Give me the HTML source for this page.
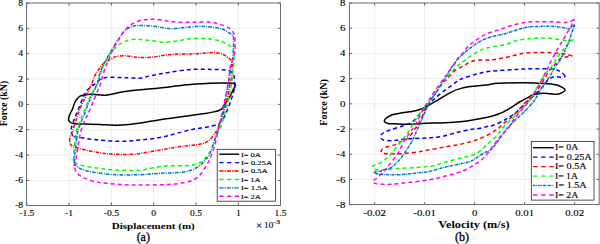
<!DOCTYPE html>
<html><head><meta charset="utf-8"><style>
html,body{margin:0;padding:0;background:#fff;}
svg{display:block;font-family:"Liberation Serif",serif;}
.tx{stroke:#000;stroke-width:0.25px;}
.tk{stroke:#000;stroke-width:0.12px;}
</style></head><body>
<svg width="600" height="244" viewBox="0 0 600 244">
<defs>
<clipPath id="cl"><rect x="26.50" y="3.00" width="254.00" height="202.00"/></clipPath>
<clipPath id="cr"><rect x="349.50" y="3.00" width="249.50" height="201.70"/></clipPath>
</defs>
<rect width="600" height="244" fill="#fff"/>
<line x1="69.10" y1="3.00" x2="69.10" y2="205.00" stroke="#e8e8e8" stroke-width="0.8"/>
<line x1="111.40" y1="3.00" x2="111.40" y2="205.00" stroke="#e8e8e8" stroke-width="0.8"/>
<line x1="153.70" y1="3.00" x2="153.70" y2="205.00" stroke="#e8e8e8" stroke-width="0.8"/>
<line x1="196.00" y1="3.00" x2="196.00" y2="205.00" stroke="#e8e8e8" stroke-width="0.8"/>
<line x1="238.30" y1="3.00" x2="238.30" y2="205.00" stroke="#e8e8e8" stroke-width="0.8"/>
<line x1="26.50" y1="180.48" x2="280.50" y2="180.48" stroke="#e8e8e8" stroke-width="0.8"/>
<line x1="26.50" y1="155.12" x2="280.50" y2="155.12" stroke="#e8e8e8" stroke-width="0.8"/>
<line x1="26.50" y1="129.76" x2="280.50" y2="129.76" stroke="#e8e8e8" stroke-width="0.8"/>
<line x1="26.50" y1="104.40" x2="280.50" y2="104.40" stroke="#e8e8e8" stroke-width="0.8"/>
<line x1="26.50" y1="79.04" x2="280.50" y2="79.04" stroke="#e8e8e8" stroke-width="0.8"/>
<line x1="26.50" y1="53.68" x2="280.50" y2="53.68" stroke="#e8e8e8" stroke-width="0.8"/>
<line x1="26.50" y1="28.32" x2="280.50" y2="28.32" stroke="#e8e8e8" stroke-width="0.8"/>
<line x1="374.60" y1="3.00" x2="374.60" y2="204.70" stroke="#e8e8e8" stroke-width="0.8"/>
<line x1="424.60" y1="3.00" x2="424.60" y2="204.70" stroke="#e8e8e8" stroke-width="0.8"/>
<line x1="474.60" y1="3.00" x2="474.60" y2="204.70" stroke="#e8e8e8" stroke-width="0.8"/>
<line x1="524.60" y1="3.00" x2="524.60" y2="204.70" stroke="#e8e8e8" stroke-width="0.8"/>
<line x1="574.60" y1="3.00" x2="574.60" y2="204.70" stroke="#e8e8e8" stroke-width="0.8"/>
<line x1="349.50" y1="179.49" x2="599.00" y2="179.49" stroke="#e8e8e8" stroke-width="0.8"/>
<line x1="349.50" y1="154.27" x2="599.00" y2="154.27" stroke="#e8e8e8" stroke-width="0.8"/>
<line x1="349.50" y1="129.06" x2="599.00" y2="129.06" stroke="#e8e8e8" stroke-width="0.8"/>
<line x1="349.50" y1="103.85" x2="599.00" y2="103.85" stroke="#e8e8e8" stroke-width="0.8"/>
<line x1="349.50" y1="78.64" x2="599.00" y2="78.64" stroke="#e8e8e8" stroke-width="0.8"/>
<line x1="349.50" y1="53.42" x2="599.00" y2="53.42" stroke="#e8e8e8" stroke-width="0.8"/>
<line x1="349.50" y1="28.21" x2="599.00" y2="28.21" stroke="#e8e8e8" stroke-width="0.8"/>
<g clip-path="url(#cl)"><path d="M68.50 119.50 C68.42 118.08 69.33 115.75 70.00 114.00 C70.67 112.25 71.67 111.00 72.50 109.00 C73.33 107.00 74.17 103.75 75.00 102.00 C75.83 100.25 76.67 99.47 77.50 98.50 C78.33 97.53 79.08 96.73 80.00 96.20 C80.92 95.67 81.83 95.58 83.00 95.30 C84.17 95.02 85.00 94.65 87.00 94.50 C89.00 94.35 92.33 94.27 95.00 94.40 C97.67 94.53 100.50 95.28 103.00 95.30 C105.50 95.32 108.00 94.80 110.00 94.50 C112.00 94.20 112.78 93.97 115.00 93.50 C117.22 93.03 119.13 92.33 123.30 91.70 C127.47 91.07 133.88 90.32 140.00 89.70 C146.12 89.08 152.50 88.78 160.00 88.00 C167.50 87.22 176.67 85.78 185.00 85.00 C193.33 84.22 203.67 83.63 210.00 83.30 C216.33 82.97 219.08 83.00 223.00 83.00 C226.92 83.00 231.42 82.88 233.50 83.30 C235.58 83.72 235.58 84.38 235.50 85.50 C235.42 86.62 233.83 88.33 233.00 90.00 C232.17 91.67 231.50 93.67 230.50 95.50 C229.50 97.33 228.00 99.50 227.00 101.00 C226.00 102.50 225.33 103.25 224.50 104.50 C223.67 105.75 222.92 107.50 222.00 108.50 C221.08 109.50 220.17 110.00 219.00 110.50 C217.83 111.00 217.33 111.00 215.00 111.50 C212.67 112.00 210.00 112.70 205.00 113.50 C200.00 114.30 192.50 115.27 185.00 116.30 C177.50 117.33 167.50 118.58 160.00 119.70 C152.50 120.82 144.72 122.25 140.00 123.00 C135.28 123.75 135.87 123.82 131.70 124.20 C127.53 124.58 120.28 125.25 115.00 125.30 C109.72 125.35 105.00 124.72 100.00 124.50 C95.00 124.28 89.17 124.12 85.00 124.00 C80.83 123.88 77.42 124.05 75.00 123.80 C72.58 123.55 71.58 123.22 70.50 122.50 C69.42 121.78 68.58 120.92 68.50 119.50Z" fill="none" stroke="#000000" stroke-width="1.5" stroke-linejoin="round"/>
<path d="M73.00 136.00 C71.55 134.92 71.55 132.42 71.30 131.00 C71.05 129.58 71.05 129.33 71.50 127.50 C71.95 125.67 73.17 122.25 74.00 120.00 C74.83 117.75 75.50 116.50 76.50 114.00 C77.50 111.50 78.83 107.92 80.00 105.00 C81.17 102.08 82.42 98.83 83.50 96.50 C84.58 94.17 85.08 92.75 86.50 91.00 C87.92 89.25 90.62 87.17 92.00 86.00 C93.38 84.83 93.92 84.75 94.80 84.00 C95.68 83.25 96.27 82.33 97.30 81.50 C98.33 80.67 99.72 79.62 101.00 79.00 C102.28 78.38 103.57 78.10 105.00 77.80 C106.43 77.50 106.78 77.23 109.60 77.20 C112.42 77.17 118.50 77.50 121.90 77.60 C125.30 77.70 126.98 77.70 130.00 77.80 C133.02 77.90 136.38 78.58 140.00 78.20 C143.62 77.82 146.98 76.45 151.70 75.50 C156.42 74.55 161.63 73.52 168.30 72.50 C174.97 71.48 184.47 69.92 191.70 69.40 C198.93 68.88 205.98 69.30 211.70 69.40 C217.42 69.50 222.95 69.73 226.00 70.00 C229.05 70.27 228.75 70.25 230.00 71.00 C231.25 71.75 232.75 73.00 233.50 74.50 C234.25 76.00 234.33 77.92 234.50 80.00 C234.67 82.08 234.75 84.67 234.50 87.00 C234.25 89.33 233.58 91.83 233.00 94.00 C232.42 96.17 231.67 98.00 231.00 100.00 C230.33 102.00 229.75 104.00 229.00 106.00 C228.25 108.00 227.33 110.08 226.50 112.00 C225.67 113.92 225.25 115.58 224.00 117.50 C222.75 119.42 221.00 122.08 219.00 123.50 C217.00 124.92 214.33 125.33 212.00 126.00 C209.67 126.67 208.12 126.97 205.00 127.50 C201.88 128.03 198.02 128.23 193.30 129.20 C188.58 130.17 182.25 131.92 176.70 133.30 C171.15 134.68 166.12 136.38 160.00 137.50 C153.88 138.62 146.67 139.37 140.00 140.00 C133.33 140.63 126.95 141.30 120.00 141.30 C113.05 141.30 104.97 140.63 98.30 140.00 C91.63 139.37 84.22 138.17 80.00 137.50 C75.78 136.83 74.45 137.08 73.00 136.00Z" fill="none" stroke="#0000ff" stroke-width="1.5" stroke-dasharray="4 3" stroke-linejoin="round"/>
<path d="M69.70 141.00 C69.50 139.50 69.83 138.17 70.30 136.50 C70.77 134.83 71.63 133.42 72.50 131.00 C73.37 128.58 74.58 124.83 75.50 122.00 C76.42 119.17 76.92 117.00 78.00 114.00 C79.08 111.00 80.50 107.33 82.00 104.00 C83.50 100.67 85.37 97.45 87.00 94.00 C88.63 90.55 90.50 86.32 91.80 83.30 C93.10 80.28 93.68 78.15 94.80 75.90 C95.92 73.65 97.05 71.85 98.50 69.80 C99.95 67.75 101.65 65.25 103.50 63.60 C105.35 61.95 107.55 61.07 109.60 59.90 C111.65 58.73 113.33 57.28 115.80 56.60 C118.27 55.92 121.70 55.82 124.40 55.80 C127.10 55.78 129.50 56.22 132.00 56.50 C134.50 56.78 136.12 57.38 139.40 57.50 C142.68 57.62 146.32 57.72 151.70 57.20 C157.08 56.68 164.48 54.97 171.70 54.40 C178.92 53.83 188.07 54.12 195.00 53.80 C201.93 53.48 208.80 52.47 213.30 52.50 C217.80 52.53 219.72 53.25 222.00 54.00 C224.28 54.75 225.50 55.92 227.00 57.00 C228.50 58.08 230.08 59.00 231.00 60.50 C231.92 62.00 232.33 63.58 232.50 66.00 C232.67 68.42 232.42 72.00 232.00 75.00 C231.58 78.00 230.67 80.50 230.00 84.00 C229.33 87.50 228.67 92.67 228.00 96.00 C227.33 99.33 227.00 100.33 226.00 104.00 C225.00 107.67 223.00 115.00 222.00 118.00 C221.00 121.00 220.83 120.00 220.00 122.00 C219.17 124.00 218.00 127.92 217.00 130.00 C216.00 132.08 215.17 132.92 214.00 134.50 C212.83 136.08 211.50 138.12 210.00 139.50 C208.50 140.88 207.00 141.97 205.00 142.80 C203.00 143.63 200.50 144.05 198.00 144.50 C195.50 144.95 193.00 145.15 190.00 145.50 C187.00 145.85 185.00 145.85 180.00 146.60 C175.00 147.35 167.50 148.77 160.00 150.00 C152.50 151.23 142.50 153.30 135.00 154.00 C127.50 154.70 121.12 154.45 115.00 154.20 C108.88 153.95 104.42 153.48 98.30 152.50 C92.18 151.52 82.77 149.47 78.30 148.30 C73.83 147.13 72.93 146.72 71.50 145.50 C70.07 144.28 69.90 142.50 69.70 141.00Z" fill="none" stroke="#ff0000" stroke-width="1.5" stroke-dasharray="3.5 1.2 1 1.2" stroke-linejoin="round"/>
<path d="M73.50 160.00 C73.67 155.17 74.92 139.50 76.00 133.00 C77.08 126.50 78.83 124.17 80.00 121.00 C81.17 117.83 81.75 117.00 83.00 114.00 C84.25 111.00 85.83 106.83 87.50 103.00 C89.17 99.17 91.47 94.08 93.00 91.00 C94.53 87.92 94.95 88.75 96.70 84.50 C98.45 80.25 101.95 69.50 103.50 65.50 C105.05 61.50 105.25 61.83 106.00 60.50 C106.75 59.17 107.25 58.67 108.00 57.50 C108.75 56.33 109.67 54.75 110.50 53.50 C111.33 52.25 112.08 51.05 113.00 50.00 C113.92 48.95 114.88 48.17 116.00 47.20 C117.12 46.23 118.27 45.12 119.70 44.20 C121.13 43.28 122.97 42.42 124.60 41.70 C126.23 40.98 127.45 40.30 129.50 39.90 C131.55 39.50 134.82 39.33 136.90 39.30 C138.98 39.27 139.82 39.50 142.00 39.70 C144.18 39.90 146.45 40.07 150.00 40.50 C153.55 40.93 158.58 42.25 163.30 42.30 C168.02 42.35 173.85 41.40 178.30 40.80 C182.75 40.20 185.27 39.05 190.00 38.70 C194.73 38.35 201.70 38.35 206.70 38.70 C211.70 39.05 216.95 40.08 220.00 40.80 C223.05 41.52 223.33 42.13 225.00 43.00 C226.67 43.87 228.67 45.00 230.00 46.00 C231.33 47.00 232.33 47.33 233.00 49.00 C233.67 50.67 233.83 53.83 234.00 56.00 C234.17 58.17 234.33 58.00 234.00 62.00 C233.67 66.00 232.67 75.00 232.00 80.00 C231.33 85.00 230.75 88.00 230.00 92.00 C229.25 96.00 228.67 99.33 227.50 104.00 C226.33 108.67 224.33 115.67 223.00 120.00 C221.67 124.33 220.67 127.33 219.50 130.00 C218.33 132.67 217.25 133.00 216.00 136.00 C214.75 139.00 213.33 144.83 212.00 148.00 C210.67 151.17 209.33 153.08 208.00 155.00 C206.67 156.92 205.33 158.25 204.00 159.50 C202.67 160.75 201.50 161.67 200.00 162.50 C198.50 163.33 197.50 163.95 195.00 164.50 C192.50 165.05 189.45 165.58 185.00 165.80 C180.55 166.02 173.85 165.43 168.30 165.80 C162.75 166.17 156.42 167.25 151.70 168.00 C146.98 168.75 146.12 169.97 140.00 170.30 C133.88 170.63 121.95 170.33 115.00 170.00 C108.05 169.67 104.13 169.13 98.30 168.30 C92.47 167.47 83.88 166.05 80.00 165.00 C76.12 163.95 76.08 162.83 75.00 162.00 C73.92 161.17 73.33 164.83 73.50 160.00Z" fill="none" stroke="#00ff00" stroke-width="1.5" stroke-dasharray="4 3" stroke-linejoin="round"/>
<path d="M74.20 162.00 C74.45 156.58 76.53 139.17 77.50 133.00 C78.47 126.83 78.83 128.17 80.00 125.00 C81.17 121.83 83.00 117.83 84.50 114.00 C86.00 110.17 87.33 106.00 89.00 102.00 C90.67 98.00 93.00 93.33 94.50 90.00 C96.00 86.67 97.12 84.75 98.00 82.00 C98.88 79.25 98.88 76.37 99.80 73.50 C100.72 70.63 102.43 67.13 103.50 64.80 C104.57 62.47 105.15 61.40 106.20 59.50 C107.25 57.60 108.37 55.85 109.80 53.40 C111.23 50.95 113.15 47.47 114.80 44.80 C116.45 42.13 118.33 39.40 119.70 37.40 C121.07 35.40 121.78 34.20 123.00 32.80 C124.22 31.40 125.67 29.97 127.00 29.00 C128.33 28.03 129.67 27.53 131.00 27.00 C132.33 26.47 133.17 26.05 135.00 25.80 C136.83 25.55 139.00 25.43 142.00 25.50 C145.00 25.57 149.67 25.87 153.00 26.20 C156.33 26.53 158.88 27.08 162.00 27.50 C165.12 27.92 167.87 28.70 171.70 28.70 C175.53 28.70 180.57 27.90 185.00 27.50 C189.43 27.10 194.97 26.47 198.30 26.30 C201.63 26.13 202.22 26.30 205.00 26.50 C207.78 26.70 212.17 27.08 215.00 27.50 C217.83 27.92 219.83 28.25 222.00 29.00 C224.17 29.75 226.33 31.00 228.00 32.00 C229.67 33.00 231.08 34.08 232.00 35.00 C232.92 35.92 233.25 35.33 233.50 37.50 C233.75 39.67 233.58 44.92 233.50 48.00 C233.42 51.08 233.50 52.33 233.00 56.00 C232.50 59.67 231.33 65.33 230.50 70.00 C229.67 74.67 228.83 79.00 228.00 84.00 C227.17 89.00 226.50 94.67 225.50 100.00 C224.50 105.33 223.08 111.50 222.00 116.00 C220.92 120.50 220.00 123.67 219.00 127.00 C218.00 130.33 217.17 132.50 216.00 136.00 C214.83 139.50 213.25 144.67 212.00 148.00 C210.75 151.33 209.50 154.17 208.50 156.00 C207.50 157.83 207.08 157.75 206.00 159.00 C204.92 160.25 203.67 162.00 202.00 163.50 C200.33 165.00 198.00 166.83 196.00 168.00 C194.00 169.17 192.67 169.75 190.00 170.50 C187.33 171.25 185.00 172.03 180.00 172.50 C175.00 172.97 166.67 172.93 160.00 173.30 C153.33 173.67 147.50 174.47 140.00 174.70 C132.50 174.93 122.50 175.07 115.00 174.70 C107.50 174.33 100.55 173.42 95.00 172.50 C89.45 171.58 84.87 170.37 81.70 169.20 C78.53 168.03 77.25 166.70 76.00 165.50 C74.75 164.30 73.95 167.42 74.20 162.00Z" fill="none" stroke="#0072bd" stroke-width="1.5" stroke-dasharray="3.5 1.2 1 1.2" stroke-linejoin="round"/>
<path d="M74.50 166.00 C74.30 163.83 75.05 164.33 75.80 160.00 C76.55 155.67 78.05 145.17 79.00 140.00 C79.95 134.83 80.50 132.33 81.50 129.00 C82.50 125.67 83.92 122.50 85.00 120.00 C86.08 117.50 86.67 117.00 88.00 114.00 C89.33 111.00 91.33 106.00 93.00 102.00 C94.67 98.00 96.77 92.92 98.00 90.00 C99.23 87.08 99.70 86.63 100.40 84.50 C101.10 82.37 101.28 80.27 102.20 77.20 C103.12 74.13 104.73 69.25 105.90 66.10 C107.07 62.95 107.93 61.23 109.20 58.30 C110.47 55.37 111.95 51.58 113.50 48.50 C115.05 45.42 116.88 42.45 118.50 39.80 C120.12 37.15 121.78 34.57 123.20 32.60 C124.62 30.63 125.53 29.43 127.00 28.00 C128.47 26.57 129.83 25.25 132.00 24.00 C134.17 22.75 137.33 21.25 140.00 20.50 C142.67 19.75 145.78 19.72 148.00 19.50 C150.22 19.28 150.47 19.03 153.30 19.20 C156.13 19.37 161.38 20.03 165.00 20.50 C168.62 20.97 170.50 21.70 175.00 22.00 C179.50 22.30 187.83 22.30 192.00 22.30 C196.17 22.30 197.00 22.05 200.00 22.00 C203.00 21.95 207.17 21.75 210.00 22.00 C212.83 22.25 214.50 22.83 217.00 23.50 C219.50 24.17 222.67 25.00 225.00 26.00 C227.33 27.00 229.42 28.00 231.00 29.50 C232.58 31.00 233.83 33.25 234.50 35.00 C235.17 36.75 234.92 37.50 235.00 40.00 C235.08 42.50 235.17 47.33 235.00 50.00 C234.83 52.67 234.50 54.00 234.00 56.00 C233.50 58.00 232.67 60.00 232.00 62.00 C231.33 64.00 230.50 65.00 230.00 68.00 C229.50 71.00 229.58 76.00 229.00 80.00 C228.42 84.00 227.33 88.00 226.50 92.00 C225.67 96.00 225.00 99.33 224.00 104.00 C223.00 108.67 221.67 114.67 220.50 120.00 C219.33 125.33 218.08 131.33 217.00 136.00 C215.92 140.67 215.00 144.67 214.00 148.00 C213.00 151.33 211.92 153.67 211.00 156.00 C210.08 158.33 209.50 160.00 208.50 162.00 C207.50 164.00 206.42 165.83 205.00 168.00 C203.58 170.17 201.83 173.08 200.00 175.00 C198.17 176.92 196.50 178.25 194.00 179.50 C191.50 180.75 189.28 181.67 185.00 182.50 C180.72 183.33 175.80 184.08 168.30 184.50 C160.80 184.92 147.50 184.97 140.00 185.00 C132.50 185.03 128.85 184.98 123.30 184.70 C117.75 184.42 111.42 183.80 106.70 183.30 C101.98 182.80 98.90 182.67 95.00 181.70 C91.10 180.73 86.30 178.95 83.30 177.50 C80.30 176.05 78.47 174.92 77.00 173.00 C75.53 171.08 74.70 168.17 74.50 166.00Z" fill="none" stroke="#ff00ff" stroke-width="1.5" stroke-dasharray="4 3" stroke-linejoin="round"/></g>
<g clip-path="url(#cr)"><path d="M565.20 90.00 C565.07 89.17 563.47 88.08 561.90 87.20 C560.33 86.32 558.87 85.32 555.80 84.70 C552.73 84.08 548.63 83.82 543.50 83.50 C538.37 83.18 532.53 82.83 525.00 82.80 C517.47 82.77 504.73 82.93 498.30 83.30 C491.87 83.67 491.12 84.45 486.40 85.00 C481.68 85.55 474.40 86.00 470.00 86.60 C465.60 87.20 463.20 87.65 460.00 88.60 C456.80 89.55 454.38 90.45 450.80 92.30 C447.22 94.15 442.00 97.65 438.50 99.70 C435.00 101.75 432.88 102.97 429.80 104.60 C426.72 106.23 423.30 108.30 420.00 109.50 C416.70 110.70 413.33 111.18 410.00 111.80 C406.67 112.42 403.05 112.67 400.00 113.20 C396.95 113.73 394.03 114.15 391.70 115.00 C389.37 115.85 387.22 117.22 386.00 118.30 C384.78 119.38 384.07 120.63 384.40 121.50 C384.73 122.37 386.23 123.12 388.00 123.50 C389.77 123.88 390.95 123.68 395.00 123.80 C399.05 123.92 407.30 124.30 412.30 124.20 C417.30 124.10 420.38 123.42 425.00 123.20 C429.62 122.98 434.72 123.10 440.00 122.90 C445.28 122.70 451.70 122.42 456.70 122.00 C461.70 121.58 465.05 121.13 470.00 120.40 C474.95 119.67 481.75 118.62 486.40 117.60 C491.05 116.58 494.35 115.63 497.90 114.30 C501.45 112.97 504.08 111.65 507.70 109.60 C511.32 107.55 516.18 104.05 519.60 102.00 C523.02 99.95 526.13 98.42 528.20 97.30 C530.27 96.18 530.77 95.82 532.00 95.30 C533.23 94.78 533.63 94.55 535.60 94.20 C537.57 93.85 541.40 93.27 543.80 93.20 C546.20 93.13 547.75 93.62 550.00 93.80 C552.25 93.98 555.18 94.57 557.30 94.30 C559.42 94.03 561.38 92.92 562.70 92.20 C564.02 91.48 565.33 90.83 565.20 90.00Z" fill="none" stroke="#000000" stroke-width="1.5" stroke-linejoin="round"/>
<path d="M565.00 76.00 C564.80 75.08 562.45 72.92 560.70 71.80 C558.95 70.68 557.37 69.82 554.50 69.30 C551.63 68.78 548.42 68.77 543.50 68.70 C538.58 68.63 529.75 68.75 525.00 68.90 C520.25 69.05 520.83 69.20 515.00 69.60 C509.17 70.00 496.35 70.57 490.00 71.30 C483.65 72.03 481.13 72.93 476.90 74.00 C472.67 75.07 467.72 76.62 464.60 77.70 C461.48 78.78 460.50 79.08 458.20 80.50 C455.90 81.92 453.47 84.23 450.80 86.20 C448.13 88.17 444.87 90.25 442.20 92.30 C439.53 94.35 437.27 96.25 434.80 98.50 C432.33 100.75 429.87 103.30 427.40 105.80 C424.93 108.30 422.52 110.83 420.00 113.50 C417.48 116.17 415.22 119.72 412.30 121.80 C409.38 123.88 406.22 124.63 402.50 126.00 C398.78 127.37 393.33 128.75 390.00 130.00 C386.67 131.25 384.03 132.33 382.50 133.50 C380.97 134.67 380.67 135.92 380.80 137.00 C380.93 138.08 381.22 139.40 383.30 140.00 C385.38 140.60 390.13 140.70 393.30 140.60 C396.47 140.50 399.13 139.75 402.30 139.40 C405.47 139.05 408.18 138.73 412.30 138.50 C416.42 138.27 422.10 138.33 427.00 138.00 C431.90 137.67 436.75 137.42 441.70 136.50 C446.65 135.58 451.98 133.65 456.70 132.50 C461.42 131.35 466.42 130.23 470.00 129.60 C473.58 128.97 475.30 129.22 478.20 128.70 C481.10 128.18 484.85 127.08 487.40 126.50 C489.95 125.92 490.97 126.10 493.50 125.20 C496.03 124.30 500.27 122.25 502.60 121.10 C504.93 119.95 505.48 119.57 507.50 118.30 C509.52 117.03 512.75 114.95 514.70 113.50 C516.65 112.05 517.08 111.62 519.20 109.60 C521.32 107.58 524.67 104.00 527.40 101.40 C530.13 98.80 533.15 96.32 535.60 94.00 C538.05 91.68 540.03 89.83 542.10 87.50 C544.17 85.17 545.93 81.80 548.00 80.00 C550.07 78.20 552.18 77.15 554.50 76.70 C556.82 76.25 560.15 77.42 561.90 77.30 C563.65 77.18 565.20 76.92 565.00 76.00Z" fill="none" stroke="#0000ff" stroke-width="1.5" stroke-dasharray="4 3" stroke-linejoin="round"/>
<path d="M572.00 56.00 C572.17 55.57 568.67 54.80 567.00 54.40 C565.33 54.00 564.03 53.85 562.00 53.60 C559.97 53.35 558.47 53.10 554.80 52.90 C551.13 52.70 543.30 52.47 540.00 52.40 C536.70 52.33 537.50 52.40 535.00 52.50 C532.50 52.60 527.83 52.67 525.00 53.00 C522.17 53.33 520.50 53.92 518.00 54.50 C515.50 55.08 512.50 55.92 510.00 56.50 C507.50 57.08 505.50 57.50 503.00 58.00 C500.50 58.50 497.50 59.17 495.00 59.50 C492.50 59.83 490.50 59.92 488.00 60.00 C485.50 60.08 482.87 59.72 480.00 60.00 C477.13 60.28 473.57 60.70 470.80 61.70 C468.03 62.70 465.87 64.67 463.40 66.00 C460.93 67.33 458.27 68.07 456.00 69.70 C453.73 71.33 451.43 74.08 449.80 75.80 C448.17 77.52 447.37 78.83 446.20 80.00 C445.03 81.17 444.50 80.75 442.80 82.80 C441.10 84.85 438.37 88.87 436.00 92.30 C433.63 95.73 430.43 100.37 428.60 103.40 C426.77 106.43 426.68 107.15 425.00 110.50 C423.32 113.85 420.82 119.48 418.50 123.50 C416.18 127.52 413.15 131.97 411.10 134.60 C409.05 137.23 408.05 138.07 406.20 139.30 C404.35 140.53 401.90 141.07 400.00 142.00 C398.10 142.93 396.97 144.10 394.80 144.90 C392.63 145.70 389.05 146.12 387.00 146.80 C384.95 147.48 383.47 148.22 382.50 149.00 C381.53 149.78 381.00 150.75 381.20 151.50 C381.40 152.25 381.90 153.13 383.70 153.50 C385.50 153.87 388.52 153.70 392.00 153.70 C395.48 153.70 400.03 153.83 404.60 153.50 C409.17 153.17 415.68 152.23 419.40 151.70 C423.12 151.17 423.18 151.00 426.90 150.30 C430.62 149.60 436.73 148.38 441.70 147.50 C446.67 146.62 451.98 145.93 456.70 145.00 C461.42 144.07 466.42 142.85 470.00 141.90 C473.58 140.95 475.47 140.33 478.20 139.30 C480.93 138.27 483.85 136.97 486.40 135.70 C488.95 134.43 491.45 132.97 493.50 131.70 C495.55 130.43 497.18 129.35 498.70 128.10 C500.22 126.85 500.92 125.68 502.60 124.20 C504.28 122.72 506.98 120.67 508.80 119.20 C510.62 117.73 511.08 117.80 513.50 115.40 C515.92 113.00 520.22 108.12 523.30 104.80 C526.38 101.48 529.55 98.13 532.00 95.50 C534.45 92.87 535.78 92.03 538.00 89.00 C540.22 85.97 543.22 80.67 545.30 77.30 C547.38 73.93 548.88 70.93 550.50 68.80 C552.12 66.67 553.47 66.12 555.00 64.50 C556.53 62.88 557.87 60.35 559.70 59.10 C561.53 57.85 563.95 57.52 566.00 57.00 C568.05 56.48 571.83 56.43 572.00 56.00Z" fill="none" stroke="#ff0000" stroke-width="1.5" stroke-dasharray="4 3" stroke-linejoin="round"/>
<path d="M573.00 40.00 C573.00 39.90 572.20 40.53 570.80 40.60 C569.40 40.67 567.68 40.73 564.60 40.40 C561.52 40.07 556.40 39.00 552.30 38.60 C548.20 38.20 543.38 38.03 540.00 38.00 C536.62 37.97 534.57 38.22 532.00 38.40 C529.43 38.58 527.43 38.67 524.60 39.10 C521.77 39.53 517.77 40.22 515.00 41.00 C512.23 41.78 510.50 43.07 508.00 43.80 C505.50 44.53 502.67 44.87 500.00 45.40 C497.33 45.93 494.57 46.48 492.00 47.00 C489.43 47.52 486.95 47.75 484.60 48.50 C482.25 49.25 480.12 50.32 477.90 51.50 C475.68 52.68 473.35 54.23 471.30 55.60 C469.25 56.97 467.32 58.43 465.60 59.70 C463.88 60.97 462.80 61.73 461.00 63.20 C459.20 64.67 456.87 66.60 454.80 68.50 C452.73 70.40 450.32 72.68 448.60 74.60 C446.88 76.52 446.27 77.68 444.50 80.00 C442.73 82.32 439.95 85.58 438.00 88.50 C436.05 91.42 434.63 94.75 432.80 97.50 C430.97 100.25 428.98 102.62 427.00 105.00 C425.02 107.38 422.93 109.12 420.90 111.80 C418.87 114.48 417.05 117.50 414.80 121.10 C412.55 124.70 409.15 130.67 407.40 133.40 C405.65 136.13 405.38 136.20 404.30 137.50 C403.22 138.80 402.90 138.73 400.90 141.20 C398.90 143.67 394.97 149.22 392.30 152.30 C389.63 155.38 387.12 157.83 384.90 159.70 C382.68 161.57 380.98 162.45 379.00 163.50 C377.02 164.55 373.67 165.00 373.00 166.00 C372.33 167.00 373.00 168.92 375.00 169.50 C377.00 170.08 381.08 169.67 385.00 169.50 C388.92 169.33 393.22 168.83 398.50 168.50 C403.78 168.17 410.90 167.95 416.70 167.50 C422.50 167.05 428.30 166.77 433.30 165.80 C438.30 164.83 441.70 163.08 446.70 161.70 C451.70 160.32 458.58 158.75 463.30 157.50 C468.02 156.25 471.83 155.62 475.00 154.20 C478.17 152.78 480.07 150.80 482.30 149.00 C484.53 147.20 486.53 145.10 488.40 143.40 C490.27 141.70 491.88 140.33 493.50 138.80 C495.12 137.27 496.78 135.82 498.10 134.20 C499.42 132.58 499.62 131.18 501.40 129.10 C503.18 127.02 506.95 123.50 508.80 121.70 C510.65 119.90 511.05 119.67 512.50 118.30 C513.95 116.93 515.28 115.75 517.50 113.50 C519.72 111.25 523.40 107.58 525.80 104.80 C528.20 102.02 530.03 99.60 531.90 96.80 C533.77 94.00 535.48 90.63 537.00 88.00 C538.52 85.37 539.50 83.50 541.00 81.00 C542.50 78.50 544.42 75.12 546.00 73.00 C547.58 70.88 548.63 70.93 550.50 68.30 C552.37 65.67 554.95 60.48 557.20 57.20 C559.45 53.92 561.73 51.27 564.00 48.60 C566.27 45.93 569.30 42.63 570.80 41.20 C572.30 39.77 573.00 40.10 573.00 40.00Z" fill="none" stroke="#00ff00" stroke-width="1.5" stroke-dasharray="4 3" stroke-linejoin="round"/>
<path d="M574.50 24.90 C573.88 24.80 571.55 28.18 569.50 28.60 C567.45 29.02 564.65 27.75 562.20 27.40 C559.75 27.05 557.47 26.70 554.80 26.50 C552.13 26.30 548.67 26.20 546.20 26.20 C543.73 26.20 542.37 26.43 540.00 26.50 C537.63 26.57 534.37 26.45 532.00 26.60 C529.63 26.75 528.05 26.97 525.80 27.40 C523.55 27.83 521.17 28.40 518.50 29.20 C515.83 30.00 512.65 31.30 509.80 32.20 C506.95 33.10 504.12 33.92 501.40 34.60 C498.68 35.28 496.12 35.62 493.50 36.30 C490.88 36.98 488.32 37.63 485.70 38.70 C483.08 39.77 480.27 41.22 477.80 42.70 C475.33 44.18 473.35 45.73 470.90 47.60 C468.45 49.47 465.35 51.88 463.10 53.90 C460.85 55.92 459.17 57.68 457.40 59.70 C455.63 61.72 453.97 63.92 452.50 66.00 C451.03 68.08 450.02 69.87 448.60 72.20 C447.18 74.53 445.90 76.85 444.00 80.00 C442.10 83.15 439.35 87.82 437.20 91.10 C435.05 94.38 432.92 96.72 431.10 99.70 C429.28 102.68 428.10 105.03 426.30 109.00 C424.50 112.97 421.83 120.00 420.30 123.50 C418.77 127.00 418.38 127.25 417.10 130.00 C415.82 132.75 414.07 137.10 412.60 140.00 C411.13 142.90 409.83 144.93 408.30 147.40 C406.77 149.87 405.25 152.33 403.40 154.80 C401.55 157.27 399.25 160.05 397.20 162.20 C395.15 164.35 392.93 166.48 391.10 167.70 C389.27 168.92 388.05 168.90 386.20 169.50 C384.35 170.10 382.12 170.80 380.00 171.30 C377.88 171.80 373.83 172.05 373.50 172.50 C373.17 172.95 375.92 173.65 378.00 174.00 C380.08 174.35 382.33 174.48 386.00 174.60 C389.67 174.72 394.05 175.05 400.00 174.70 C405.95 174.35 416.70 173.07 421.70 172.50 C426.70 171.93 425.83 172.27 430.00 171.30 C434.17 170.33 441.15 168.03 446.70 166.70 C452.25 165.37 459.13 164.28 463.30 163.30 C467.47 162.32 468.92 162.10 471.70 160.80 C474.48 159.50 477.62 156.97 480.00 155.50 C482.38 154.03 484.08 153.05 486.00 152.00 C487.92 150.95 489.42 151.12 491.50 149.20 C493.58 147.28 496.23 143.57 498.50 140.50 C500.77 137.43 502.77 133.73 505.10 130.80 C507.43 127.87 510.35 125.12 512.50 122.90 C514.65 120.68 516.20 119.18 518.00 117.50 C519.80 115.82 520.98 115.12 523.30 112.80 C525.62 110.48 529.95 105.75 531.90 103.60 C533.85 101.45 534.02 101.42 535.00 99.90 C535.98 98.38 536.55 96.65 537.80 94.50 C539.05 92.35 540.73 89.67 542.50 87.00 C544.27 84.33 546.08 82.17 548.40 78.50 C550.72 74.83 554.52 67.93 556.40 65.00 C558.28 62.07 558.33 63.22 559.70 60.90 C561.07 58.58 562.97 54.58 564.60 51.10 C566.23 47.62 568.47 42.62 569.50 40.00 C570.53 37.38 570.18 37.20 570.80 35.40 C571.42 33.60 572.58 30.95 573.20 29.20 C573.82 27.45 575.12 25.00 574.50 24.90Z" fill="none" stroke="#0072bd" stroke-width="1.5" stroke-dasharray="3 0.8 0.8 0.8" stroke-linejoin="round"/>
<path d="M573.80 19.60 C573.40 19.50 572.33 20.72 570.80 21.20 C569.27 21.68 567.68 22.40 564.60 22.50 C561.52 22.60 556.40 21.92 552.30 21.80 C548.20 21.68 543.38 21.80 540.00 21.80 C536.62 21.80 534.57 21.68 532.00 21.80 C529.43 21.92 527.27 22.08 524.60 22.50 C521.93 22.92 518.87 23.58 516.00 24.30 C513.13 25.02 510.07 25.92 507.40 26.80 C504.73 27.68 502.32 28.83 500.00 29.60 C497.68 30.37 495.73 30.70 493.50 31.40 C491.27 32.10 488.88 32.73 486.60 33.80 C484.32 34.87 481.92 36.48 479.80 37.80 C477.68 39.12 475.87 40.23 473.90 41.70 C471.93 43.17 469.67 44.90 468.00 46.60 C466.33 48.30 465.53 50.07 463.90 51.90 C462.27 53.73 459.72 55.67 458.20 57.60 C456.68 59.53 456.40 61.07 454.80 63.50 C453.20 65.93 450.55 69.53 448.60 72.20 C446.65 74.87 445.40 76.35 443.10 79.50 C440.80 82.65 437.22 87.53 434.80 91.10 C432.38 94.67 430.45 98.03 428.60 100.90 C426.75 103.77 425.80 104.53 423.70 108.30 C421.60 112.07 418.52 119.12 416.00 123.50 C413.48 127.88 410.50 131.85 408.60 134.60 C406.70 137.35 406.28 137.05 404.60 140.00 C402.92 142.95 400.55 148.82 398.50 152.30 C396.45 155.78 394.15 158.45 392.30 160.90 C390.45 163.35 389.03 165.07 387.40 167.00 C385.77 168.93 384.15 170.75 382.50 172.50 C380.85 174.25 379.13 176.00 377.50 177.50 C375.87 179.00 372.95 180.48 372.70 181.50 C372.45 182.52 374.28 183.13 376.00 183.60 C377.72 184.07 380.38 184.18 383.00 184.30 C385.62 184.42 387.48 184.60 391.70 184.30 C395.92 184.00 401.92 183.27 408.30 182.50 C414.68 181.73 423.60 180.82 430.00 179.70 C436.40 178.58 441.15 177.28 446.70 175.80 C452.25 174.32 458.58 172.73 463.30 170.80 C468.02 168.87 471.67 166.28 475.00 164.20 C478.33 162.12 480.80 160.67 483.30 158.30 C485.80 155.93 488.13 152.38 490.00 150.00 C491.87 147.62 493.05 145.95 494.50 144.00 C495.95 142.05 497.52 139.77 498.70 138.30 C499.88 136.83 500.13 136.73 501.60 135.20 C503.07 133.67 505.58 131.55 507.50 129.10 C509.42 126.65 511.08 123.32 513.10 120.50 C515.12 117.68 517.08 115.22 519.60 112.20 C522.12 109.18 526.03 105.18 528.20 102.40 C530.37 99.62 530.47 99.07 532.60 95.50 C534.73 91.93 538.53 85.43 541.00 81.00 C543.47 76.57 545.93 71.83 547.40 68.90 C548.87 65.97 548.37 66.27 549.80 63.40 C551.23 60.53 553.88 55.47 556.00 51.70 C558.12 47.93 560.65 43.93 562.50 40.80 C564.35 37.67 565.72 35.23 567.10 32.90 C568.48 30.57 569.78 28.65 570.80 26.80 C571.82 24.95 572.70 23.00 573.20 21.80 C573.70 20.60 574.20 19.70 573.80 19.60Z" fill="none" stroke="#ff00ff" stroke-width="1.5" stroke-dasharray="4 3" stroke-linejoin="round"/></g>
<line x1="26.80" y1="205.00" x2="26.80" y2="202.50" stroke="#262626" stroke-width="0.7"/>
<line x1="26.80" y1="3.00" x2="26.80" y2="5.50" stroke="#262626" stroke-width="0.7"/>
<text x="26.80" y="216.01" text-anchor="middle" font-size="8" class="tk" textLength="15.20" lengthAdjust="spacingAndGlyphs">-1.5</text>
<line x1="69.10" y1="205.00" x2="69.10" y2="202.50" stroke="#262626" stroke-width="0.7"/>
<line x1="69.10" y1="3.00" x2="69.10" y2="5.50" stroke="#262626" stroke-width="0.7"/>
<text x="69.10" y="216.01" text-anchor="middle" font-size="8" class="tk" textLength="8.00" lengthAdjust="spacingAndGlyphs">-1</text>
<line x1="111.40" y1="205.00" x2="111.40" y2="202.50" stroke="#262626" stroke-width="0.7"/>
<line x1="111.40" y1="3.00" x2="111.40" y2="5.50" stroke="#262626" stroke-width="0.7"/>
<text x="111.40" y="216.01" text-anchor="middle" font-size="8" class="tk" textLength="15.20" lengthAdjust="spacingAndGlyphs">-0.5</text>
<line x1="153.70" y1="205.00" x2="153.70" y2="202.50" stroke="#262626" stroke-width="0.7"/>
<line x1="153.70" y1="3.00" x2="153.70" y2="5.50" stroke="#262626" stroke-width="0.7"/>
<text x="153.70" y="216.01" text-anchor="middle" font-size="8" class="tk" textLength="4.80" lengthAdjust="spacingAndGlyphs">0</text>
<line x1="196.00" y1="205.00" x2="196.00" y2="202.50" stroke="#262626" stroke-width="0.7"/>
<line x1="196.00" y1="3.00" x2="196.00" y2="5.50" stroke="#262626" stroke-width="0.7"/>
<text x="196.00" y="216.01" text-anchor="middle" font-size="8" class="tk" textLength="12.00" lengthAdjust="spacingAndGlyphs">0.5</text>
<line x1="238.30" y1="205.00" x2="238.30" y2="202.50" stroke="#262626" stroke-width="0.7"/>
<line x1="238.30" y1="3.00" x2="238.30" y2="5.50" stroke="#262626" stroke-width="0.7"/>
<text x="238.30" y="216.01" text-anchor="middle" font-size="8" class="tk" textLength="4.80" lengthAdjust="spacingAndGlyphs">1</text>
<line x1="280.50" y1="205.00" x2="280.50" y2="202.50" stroke="#262626" stroke-width="0.7"/>
<line x1="280.50" y1="3.00" x2="280.50" y2="5.50" stroke="#262626" stroke-width="0.7"/>
<text x="280.50" y="216.01" text-anchor="middle" font-size="8" class="tk" textLength="12.00" lengthAdjust="spacingAndGlyphs">1.5</text>
<line x1="26.50" y1="205.50" x2="29.00" y2="205.50" stroke="#262626" stroke-width="0.7"/>
<line x1="280.50" y1="205.50" x2="278.00" y2="205.50" stroke="#262626" stroke-width="0.7"/>
<text x="23.00" y="208.20" text-anchor="end" font-size="8" class="tk" textLength="8.00" lengthAdjust="spacingAndGlyphs">-8</text>
<line x1="26.50" y1="180.48" x2="29.00" y2="180.48" stroke="#262626" stroke-width="0.7"/>
<line x1="280.50" y1="180.48" x2="278.00" y2="180.48" stroke="#262626" stroke-width="0.7"/>
<text x="23.00" y="183.18" text-anchor="end" font-size="8" class="tk" textLength="8.00" lengthAdjust="spacingAndGlyphs">-6</text>
<line x1="26.50" y1="155.12" x2="29.00" y2="155.12" stroke="#262626" stroke-width="0.7"/>
<line x1="280.50" y1="155.12" x2="278.00" y2="155.12" stroke="#262626" stroke-width="0.7"/>
<text x="23.00" y="157.82" text-anchor="end" font-size="8" class="tk" textLength="8.00" lengthAdjust="spacingAndGlyphs">-4</text>
<line x1="26.50" y1="129.76" x2="29.00" y2="129.76" stroke="#262626" stroke-width="0.7"/>
<line x1="280.50" y1="129.76" x2="278.00" y2="129.76" stroke="#262626" stroke-width="0.7"/>
<text x="23.00" y="132.46" text-anchor="end" font-size="8" class="tk" textLength="8.00" lengthAdjust="spacingAndGlyphs">-2</text>
<line x1="26.50" y1="104.40" x2="29.00" y2="104.40" stroke="#262626" stroke-width="0.7"/>
<line x1="280.50" y1="104.40" x2="278.00" y2="104.40" stroke="#262626" stroke-width="0.7"/>
<text x="23.00" y="107.10" text-anchor="end" font-size="8" class="tk" textLength="4.80" lengthAdjust="spacingAndGlyphs">0</text>
<line x1="26.50" y1="79.04" x2="29.00" y2="79.04" stroke="#262626" stroke-width="0.7"/>
<line x1="280.50" y1="79.04" x2="278.00" y2="79.04" stroke="#262626" stroke-width="0.7"/>
<text x="23.00" y="81.74" text-anchor="end" font-size="8" class="tk" textLength="4.80" lengthAdjust="spacingAndGlyphs">2</text>
<line x1="26.50" y1="53.68" x2="29.00" y2="53.68" stroke="#262626" stroke-width="0.7"/>
<line x1="280.50" y1="53.68" x2="278.00" y2="53.68" stroke="#262626" stroke-width="0.7"/>
<text x="23.00" y="56.38" text-anchor="end" font-size="8" class="tk" textLength="4.80" lengthAdjust="spacingAndGlyphs">4</text>
<line x1="26.50" y1="28.32" x2="29.00" y2="28.32" stroke="#262626" stroke-width="0.7"/>
<line x1="280.50" y1="28.32" x2="278.00" y2="28.32" stroke="#262626" stroke-width="0.7"/>
<text x="23.00" y="31.02" text-anchor="end" font-size="8" class="tk" textLength="4.80" lengthAdjust="spacingAndGlyphs">6</text>
<line x1="26.50" y1="3.00" x2="29.00" y2="3.00" stroke="#262626" stroke-width="0.7"/>
<line x1="280.50" y1="3.00" x2="278.00" y2="3.00" stroke="#262626" stroke-width="0.7"/>
<text x="23.00" y="5.70" text-anchor="end" font-size="8" class="tk" textLength="4.80" lengthAdjust="spacingAndGlyphs">8</text>
<line x1="374.60" y1="204.70" x2="374.60" y2="202.20" stroke="#262626" stroke-width="0.7"/>
<line x1="374.60" y1="3.00" x2="374.60" y2="5.50" stroke="#262626" stroke-width="0.7"/>
<text x="374.60" y="216.08" text-anchor="middle" font-size="9" class="tk" textLength="22.50" lengthAdjust="spacingAndGlyphs">-0.02</text>
<line x1="424.60" y1="204.70" x2="424.60" y2="202.20" stroke="#262626" stroke-width="0.7"/>
<line x1="424.60" y1="3.00" x2="424.60" y2="5.50" stroke="#262626" stroke-width="0.7"/>
<text x="424.60" y="216.08" text-anchor="middle" font-size="9" class="tk" textLength="22.50" lengthAdjust="spacingAndGlyphs">-0.01</text>
<line x1="474.60" y1="204.70" x2="474.60" y2="202.20" stroke="#262626" stroke-width="0.7"/>
<line x1="474.60" y1="3.00" x2="474.60" y2="5.50" stroke="#262626" stroke-width="0.7"/>
<text x="474.60" y="216.08" text-anchor="middle" font-size="9" class="tk" textLength="5.40" lengthAdjust="spacingAndGlyphs">0</text>
<line x1="524.60" y1="204.70" x2="524.60" y2="202.20" stroke="#262626" stroke-width="0.7"/>
<line x1="524.60" y1="3.00" x2="524.60" y2="5.50" stroke="#262626" stroke-width="0.7"/>
<text x="524.60" y="216.08" text-anchor="middle" font-size="9" class="tk" textLength="18.90" lengthAdjust="spacingAndGlyphs">0.01</text>
<line x1="574.60" y1="204.70" x2="574.60" y2="202.20" stroke="#262626" stroke-width="0.7"/>
<line x1="574.60" y1="3.00" x2="574.60" y2="5.50" stroke="#262626" stroke-width="0.7"/>
<text x="574.60" y="216.08" text-anchor="middle" font-size="9" class="tk" textLength="18.90" lengthAdjust="spacingAndGlyphs">0.02</text>
<line x1="349.50" y1="204.70" x2="352.00" y2="204.70" stroke="#262626" stroke-width="0.7"/>
<line x1="599.00" y1="204.70" x2="596.50" y2="204.70" stroke="#262626" stroke-width="0.7"/>
<text x="345.30" y="207.74" text-anchor="end" font-size="9" class="tk" textLength="9.00" lengthAdjust="spacingAndGlyphs">-8</text>
<line x1="349.50" y1="179.49" x2="352.00" y2="179.49" stroke="#262626" stroke-width="0.7"/>
<line x1="599.00" y1="179.49" x2="596.50" y2="179.49" stroke="#262626" stroke-width="0.7"/>
<text x="345.30" y="182.53" text-anchor="end" font-size="9" class="tk" textLength="9.00" lengthAdjust="spacingAndGlyphs">-6</text>
<line x1="349.50" y1="154.27" x2="352.00" y2="154.27" stroke="#262626" stroke-width="0.7"/>
<line x1="599.00" y1="154.27" x2="596.50" y2="154.27" stroke="#262626" stroke-width="0.7"/>
<text x="345.30" y="157.32" text-anchor="end" font-size="9" class="tk" textLength="9.00" lengthAdjust="spacingAndGlyphs">-4</text>
<line x1="349.50" y1="129.06" x2="352.00" y2="129.06" stroke="#262626" stroke-width="0.7"/>
<line x1="599.00" y1="129.06" x2="596.50" y2="129.06" stroke="#262626" stroke-width="0.7"/>
<text x="345.30" y="132.10" text-anchor="end" font-size="9" class="tk" textLength="9.00" lengthAdjust="spacingAndGlyphs">-2</text>
<line x1="349.50" y1="103.85" x2="352.00" y2="103.85" stroke="#262626" stroke-width="0.7"/>
<line x1="599.00" y1="103.85" x2="596.50" y2="103.85" stroke="#262626" stroke-width="0.7"/>
<text x="345.30" y="106.89" text-anchor="end" font-size="9" class="tk" textLength="5.40" lengthAdjust="spacingAndGlyphs">0</text>
<line x1="349.50" y1="78.64" x2="352.00" y2="78.64" stroke="#262626" stroke-width="0.7"/>
<line x1="599.00" y1="78.64" x2="596.50" y2="78.64" stroke="#262626" stroke-width="0.7"/>
<text x="345.30" y="81.68" text-anchor="end" font-size="9" class="tk" textLength="5.40" lengthAdjust="spacingAndGlyphs">2</text>
<line x1="349.50" y1="53.42" x2="352.00" y2="53.42" stroke="#262626" stroke-width="0.7"/>
<line x1="599.00" y1="53.42" x2="596.50" y2="53.42" stroke="#262626" stroke-width="0.7"/>
<text x="345.30" y="56.47" text-anchor="end" font-size="9" class="tk" textLength="5.40" lengthAdjust="spacingAndGlyphs">4</text>
<line x1="349.50" y1="28.21" x2="352.00" y2="28.21" stroke="#262626" stroke-width="0.7"/>
<line x1="599.00" y1="28.21" x2="596.50" y2="28.21" stroke="#262626" stroke-width="0.7"/>
<text x="345.30" y="31.25" text-anchor="end" font-size="9" class="tk" textLength="5.40" lengthAdjust="spacingAndGlyphs">6</text>
<line x1="349.50" y1="3.00" x2="352.00" y2="3.00" stroke="#262626" stroke-width="0.7"/>
<line x1="599.00" y1="3.00" x2="596.50" y2="3.00" stroke="#262626" stroke-width="0.7"/>
<text x="345.30" y="6.04" text-anchor="end" font-size="9" class="tk" textLength="5.40" lengthAdjust="spacingAndGlyphs">8</text>
<rect x="26.50" y="3.00" width="254.00" height="202.50" fill="none" stroke="#6a6a6a" stroke-width="1"/>
<rect x="349.50" y="3.00" width="249.70" height="201.50" fill="none" stroke="#6a6a6a" stroke-width="1"/>
<rect x="217.20" y="149.30" width="58.20" height="51.90" fill="#fff" stroke="#262626" stroke-width="0.8"/>
<line x1="219.20" y1="154.20" x2="239.20" y2="154.20" stroke="#000000" stroke-width="1.4"/>
<text x="240.90" y="156.60" font-size="6.6" class="tk" textLength="19.9" lengthAdjust="spacingAndGlyphs">I= 0A</text>
<line x1="219.20" y1="162.62" x2="239.20" y2="162.62" stroke="#0000ff" stroke-width="1.4" stroke-dasharray="4.3 3.55"/>
<text x="240.90" y="165.02" font-size="6.6" class="tk" textLength="31.3" lengthAdjust="spacingAndGlyphs">I= 0.25A</text>
<line x1="219.20" y1="171.04" x2="239.20" y2="171.04" stroke="#ff0000" stroke-width="1.4" stroke-dasharray="4.3 1.0 1.2 1.0"/>
<text x="240.90" y="173.44" font-size="6.6" class="tk" textLength="26.9" lengthAdjust="spacingAndGlyphs">I= 0.5A</text>
<line x1="219.20" y1="179.46" x2="239.20" y2="179.46" stroke="#00ff00" stroke-width="1.4" stroke-dasharray="4.3 3.55"/>
<text x="240.90" y="181.86" font-size="6.6" class="tk" textLength="19.5" lengthAdjust="spacingAndGlyphs">I= 1A</text>
<line x1="219.20" y1="187.88" x2="239.20" y2="187.88" stroke="#0072bd" stroke-width="1.4" stroke-dasharray="4.3 1.0 1.2 1.0"/>
<text x="240.90" y="190.28" font-size="6.6" class="tk" textLength="27.0" lengthAdjust="spacingAndGlyphs">I= 1.5A</text>
<line x1="219.20" y1="196.30" x2="239.20" y2="196.30" stroke="#ff00ff" stroke-width="1.4" stroke-dasharray="4.3 3.55"/>
<text x="240.90" y="198.70" font-size="6.6" class="tk" textLength="20.0" lengthAdjust="spacingAndGlyphs">I= 2A</text>
<rect x="531.30" y="141.40" width="62.70" height="58.70" fill="#fff" stroke="#262626" stroke-width="0.8"/>
<line x1="533.00" y1="147.70" x2="553.70" y2="147.70" stroke="#000000" stroke-width="1.4"/>
<text x="555.00" y="150.46" font-size="7.6" class="tk" textLength="23.4" lengthAdjust="spacingAndGlyphs">I= 0A</text>
<line x1="533.00" y1="157.16" x2="553.70" y2="157.16" stroke="#0000ff" stroke-width="1.4" stroke-dasharray="4.5 3.6"/>
<text x="555.00" y="159.92" font-size="7.6" class="tk" textLength="36.8" lengthAdjust="spacingAndGlyphs">I= 0.25A</text>
<line x1="533.00" y1="166.62" x2="553.70" y2="166.62" stroke="#ff0000" stroke-width="1.4" stroke-dasharray="4.5 3.6"/>
<text x="555.00" y="169.38" font-size="7.6" class="tk" textLength="31.6" lengthAdjust="spacingAndGlyphs">I= 0.5A</text>
<line x1="533.00" y1="176.08" x2="553.70" y2="176.08" stroke="#00ff00" stroke-width="1.4" stroke-dasharray="4.5 3.6"/>
<text x="555.00" y="178.84" font-size="7.6" class="tk" textLength="22.9" lengthAdjust="spacingAndGlyphs">I= 1A</text>
<line x1="533.00" y1="185.54" x2="553.70" y2="185.54" stroke="#0072bd" stroke-width="1.4" stroke-dasharray="2.4 0.9 0.9 0.9"/>
<text x="555.00" y="188.30" font-size="7.6" class="tk" textLength="31.7" lengthAdjust="spacingAndGlyphs">I= 1.5A</text>
<line x1="533.00" y1="195.00" x2="553.70" y2="195.00" stroke="#ff00ff" stroke-width="1.4" stroke-dasharray="4.5 3.6"/>
<text x="555.00" y="197.76" font-size="7.6" class="tk" textLength="23.5" lengthAdjust="spacingAndGlyphs">I= 2A</text>
<text x="153.3" y="228.8" text-anchor="middle" font-size="9" font-weight="bold" textLength="83" lengthAdjust="spacingAndGlyphs">Displacement (m)</text>
<text x="473.9" y="227.7" text-anchor="middle" font-size="9.5" font-weight="bold" textLength="71.3" lengthAdjust="spacingAndGlyphs">Velocity (m/s)</text>
<text transform="translate(7.0,103.5) rotate(-90)" text-anchor="middle" font-size="9.5" font-weight="bold" textLength="45.5" lengthAdjust="spacingAndGlyphs">Force (kN)</text>
<text transform="translate(327.0,102.4) rotate(-90)" text-anchor="middle" font-size="9.5" font-weight="bold" textLength="46.5" lengthAdjust="spacingAndGlyphs">Force (kN)</text>
<text x="143.3" y="241.3" text-anchor="middle" font-size="12" stroke="#000" stroke-width="0.3">(a)</text>
<text x="462.1" y="241.3" text-anchor="middle" font-size="12" stroke="#000" stroke-width="0.3">(b)</text>
<text x="256.0" y="229.2" font-size="11" class="tk">×</text>
<text x="264.1" y="228.1" font-size="8.7" class="tk" textLength="9.2" lengthAdjust="spacingAndGlyphs">10</text>
<text x="273.3" y="223.6" font-size="7" class="tk" textLength="6.8" lengthAdjust="spacingAndGlyphs">-3</text>
</svg>
</body></html>
